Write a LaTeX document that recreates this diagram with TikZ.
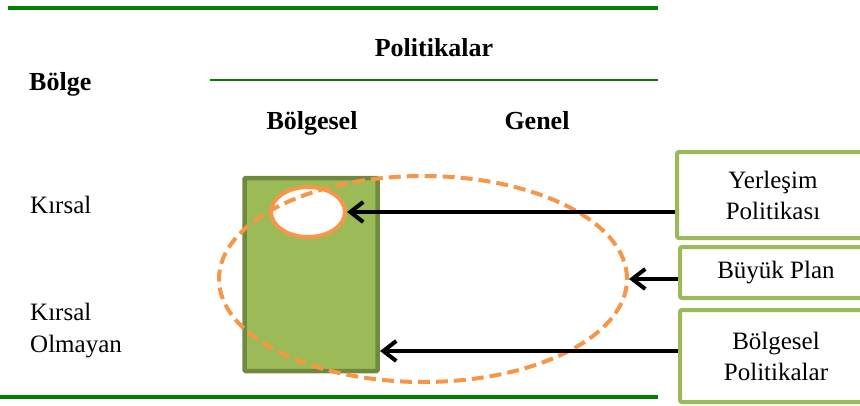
\documentclass[tikz,border=0pt]{standalone}
\usepackage{fontspec}
\setmainfont{Liberation Serif}
\usetikzlibrary{arrows.meta,shapes.geometric}
\definecolor{rule}{HTML}{008000}
\definecolor{leaf}{HTML}{9BBB59}
\definecolor{leafdark}{HTML}{71893F}
\definecolor{accent}{HTML}{F79646}

\begin{document}
\begin{tikzpicture}[
		x=1pt, y=-1pt,
		head/.style={font=\fontsize{26}{30}\selectfont\bfseries, anchor=base, inner sep=0pt},
		lbl/.style={font=\fontsize{25}{32}\selectfont, align=left, anchor=base west, inner sep=0pt},
		side/.style={draw=leaf, line width=4pt, rounded corners=2pt, fill=white,
			minimum width=192pt, align=center, font=\fontsize{25}{31}\selectfont},
		arr/.style={line width=4pt, -{Straight Barb[length=13pt,width=20pt,line width=4pt]}}]
	\clip (0,0) rectangle (860,405);
	%% rules
	\draw[rule, line width=4pt] (8,8) -- (658,8);
	\draw[rule, line width=2.5pt] (210,80) -- (658,80);
	\draw[rule, line width=4pt] (0,397) -- (658,397);
	%% headings
	\node[head] (pol) at (434,56) {Politikalar};
	\node[head, anchor=base west] (bolge) at (29,90) {Bölge};
	\node[head] (reg) at (312,129) {Bölgesel};
	\node[head] (gen) at (537,129) {Genel};
	\node[lbl] (kir) at (30,213) {Kırsal};
	\node[lbl] (kiro) at (30,352) {Kırsal\\Olmayan};
	%% area
	\node[draw=leafdark, fill=leaf, line width=4.5pt, rounded corners=1pt,
		minimum width=133pt, minimum height=193pt, inner sep=0pt] (area) at (311,274.5) {};
	\node[ellipse, draw=accent, fill=white, line width=4pt, minimum width=74pt,
		minimum height=50pt, inner sep=0pt] (settle) at (308,212) {};
	\node[ellipse, draw=accent, line width=4pt, dash pattern=on 12pt off 6pt,
		minimum width=408pt, minimum height=206pt, inner sep=0pt] (plan) at (423,279) {};
	%% boxes
	\node[side, minimum height=86pt] (yer) at (773,195) {Yerleşim\\Politikası};
	\node[side, minimum height=51pt] (buy) at (776,272.5) {Büyük Plan};
	\node[side, minimum height=92pt] (bpol) at (776,356) {Bölgesel\\Politikalar};
	%% connectors
	\coordinate (a1) at (settle.east);
	\coordinate (a3) at (380,351);
	\draw[arr] (yer.west |- a1) -- (a1);
	\draw[arr] (buy.west |- plan.east) -- (plan.east);
	\draw[arr] (bpol.west |- a3) -- (a3);
\end{tikzpicture}
\end{document}
